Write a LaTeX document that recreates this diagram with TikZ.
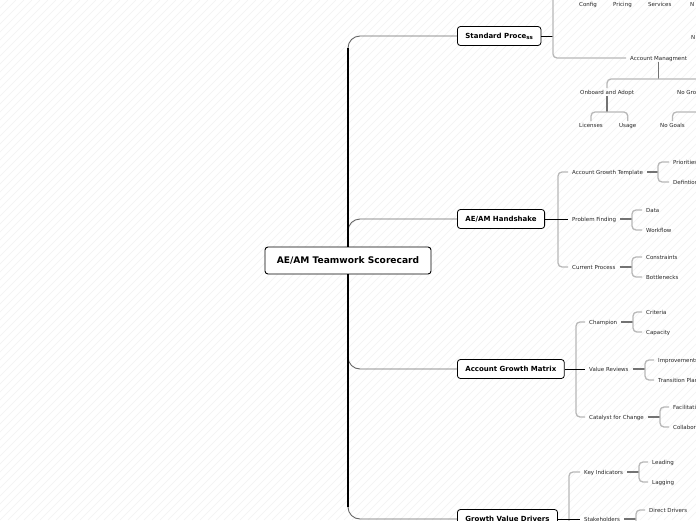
\documentclass[tikz,border=0pt]{standalone}
\usepackage{fontspec}
\setmainfont{DejaVu Sans}
\usetikzlibrary{positioning}
\tikzset{
  root/.style={draw, line width=0.9pt, rounded corners=3pt, fill=white,
    font=\bfseries\fontsize{9.1}{11}\selectfont, minimum width=166pt,
    minimum height=27pt, inner sep=0pt},
  topic/.style={draw, line width=0.8pt, rounded corners=3pt, fill=white,
    font=\bfseries\fontsize{7}{9}\selectfont, minimum height=19pt,
    inner xsep=8pt, inner ysep=0pt, text height=5.5pt, text depth=0.8pt,
    anchor=west},
  leaf/.style={font=\fontsize{5.5}{6}\selectfont, text=black!85,
    inner xsep=4pt, inner ysep=1pt, text height=5pt, text depth=0.5pt,
    anchor=west},
  trunk/.style={line width=1.8pt, black},
  limb/.style={line width=0.9pt, black!60, rounded corners=12pt},
  link/.style={line width=0.8pt, black},
  stub/.style={line width=1.4pt, black!55},
  brace/.style={line width=1.3pt, black!28, rounded corners=4pt},
  hatch/.style={black!5, line width=0.4pt},
}
\begin{document}
\begin{tikzpicture}[x=1pt, y=-1pt]
  \useasboundingbox (0,0) rectangle (696,520);
  \clip (0,0) rectangle (696,520);
  \fill[white] (0,0) rectangle (696,520);
  \foreach \i in {-520,-512,...,696}
    \draw[hatch] (\i,520) -- (\i+520,0);

  % main topics
  \draw
    (348,260.5) node[root] (root){AE/AM Teamwork Scorecard}
    (457,36) node[topic] (sp){Standard Proce\raisebox{-0.8pt}{\fontsize{5.5}{6}\selectfont ss}}
    (457,219) node[topic] (hs){AE/AM Handshake}
    (457,369) node[topic] (agm){Account Growth Matrix}
    (457,519) node[topic] (gvd){Growth Value Drivers};

  % standard process
  \draw
    (575,4) node[leaf] (cfg){Config}
    (609,4) node[leaf] (prc){Pricing}
    (644,4) node[leaf] (svc){Services}
    (686,4) node[leaf] (nt){N}
    (687,37) node[leaf] (nx){N}
    (626,58) node[leaf] (am){Account Managment}
    (576,92) node[leaf] (oa){Onboard and Adopt}
    (673,92) node[leaf] (ngr){No Gro}
    (575,125) node[leaf] (lic){Licenses}
    (615,125) node[leaf] (usg){Usage}
    (656,125) node[leaf] (ngo){No Goals};

  % handshake
  \draw
    (568,172) node[leaf] (agt){Account Growth Template}
    (568,219) node[leaf] (pf){Problem Finding}
    (568,267) node[leaf] (cp){Current Process}
    (669,162) node[leaf] (pri){Priorities}
    (669,182) node[leaf] (dfn){Defintion}
    (642,210) node[leaf] (dat){Data}
    (642,230) node[leaf] (wfl){Workflow}
    (642,257) node[leaf] (cst){Constraints}
    (642,277) node[leaf] (btl){Bottlenecks};

  % growth matrix
  \draw
    (585,322) node[leaf] (chp){Champion}
    (585,369) node[leaf] (vr){Value Reviews}
    (585,417) node[leaf] (cfc){Catalyst for Change}
    (642,312) node[leaf] (cri){Criteria}
    (642,332) node[leaf] (cap){Capacity}
    (654,360) node[leaf] (imp){Improvements}
    (654,380) node[leaf] (tpl){Transition Plan}
    (669,407) node[leaf] (fac){Facilitation}
    (669,427) node[leaf] (col){Collaboration};

  % value drivers
  \draw
    (580,472) node[leaf] (ki){Key Indicators}
    (580,519) node[leaf] (stk){Stakeholders}
    (648,462) node[leaf] (lea){Leading}
    (648,482) node[leaf] (lag){Lagging}
    (645,510) node[leaf] (dd){Direct Drivers};

  \coordinate (trunkTop) at (348,48);
  \coordinate (trunkBot) at (348,507);
  \coordinate (amJ) at (658,79);
  \coordinate (oaJ) at (607,112);

  \begin{scope}[-]
    \draw[limb] (root.north) |- (sp.west);
    \draw[limb] (root.north) |- (hs.west);
    \draw[limb] (root.south) |- (agm.west);
    \draw[limb] (root.south) |- (gvd.west);
    \draw[trunk] (root.north) -- (trunkTop);
    \draw[trunk] (root.south) -- (trunkBot);

    \draw[link] (sp.east) -- (553,36);
    \draw[brace] (553,-4) -- (553,58) -- (am.west);
    \draw[stub] (am.south) -- (am.south |- amJ);
    \draw[brace] (oa.north) -- (oa.north |- amJ) -- (706,79);
    \draw[stub] (oa.south) -- (oa.south |- oaJ);
    \draw[brace] (lic.north) -- (lic.north |- oaJ) -- (usg.north |- oaJ) -- (usg.north);
    \draw[brace] (ngo.north) -- (ngo.north |- oaJ) -- (706,112);

    \draw[brace] (agt.west) -- (558,172) -- (558,267) -- (cp.west);
    \draw[link] (hs.east) -- (pf.west);
    \draw[stub] (agt.east) -- (658,172);
    \draw[brace] (pri.west) -- (658,162) -- (658,182) -- (dfn.west);
    \draw[stub] (pf.east) -- (632,219);
    \draw[brace] (dat.west) -- (632,210) -- (632,230) -- (wfl.west);
    \draw[stub] (cp.east) -- (632,267);
    \draw[brace] (cst.west) -- (632,257) -- (632,277) -- (btl.west);

    \draw[brace] (chp.west) -- (576,322) -- (576,417) -- (cfc.west);
    \draw[link] (agm.east) -- (vr.west);
    \draw[stub] (chp.east) -- (633,322);
    \draw[brace] (cri.west) -- (633,312) -- (633,332) -- (cap.west);
    \draw[stub] (vr.east) -- (645,369);
    \draw[brace] (imp.west) -- (645,360) -- (645,380) -- (tpl.west);
    \draw[stub] (cfc.east) -- (660,417);
    \draw[brace] (fac.west) -- (660,407) -- (660,427) -- (col.west);

    \draw[brace] (ki.west) -- (569,472) -- (569,540);
    \draw[link] (gvd.east) -- (stk.west);
    \draw[stub] (ki.east) -- (639,472);
    \draw[brace] (lea.west) -- (639,462) -- (639,482) -- (lag.west);
    \draw[stub] (stk.east) -- (636,519);
    \draw[brace] (dd.west) -- (636,510) -- (636,540);
  \end{scope}
\end{tikzpicture}
\end{document}
